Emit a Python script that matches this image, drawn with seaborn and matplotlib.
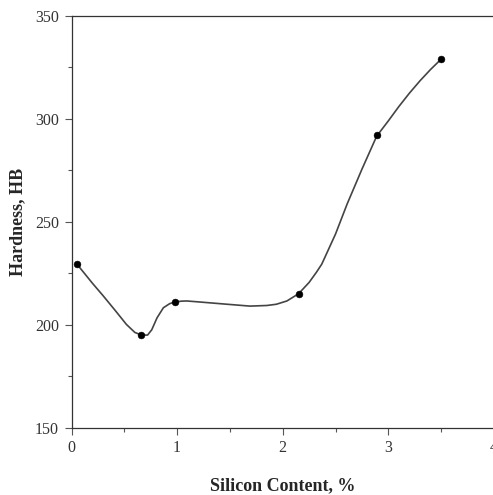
import numpy as np
import pandas as pd
import matplotlib
matplotlib.use("Agg")
import matplotlib.pyplot as plt
from matplotlib.ticker import MultipleLocator
import seaborn as sns

# measured points (markers)
si_content = [0.05, 0.66, 0.98, 2.15, 2.89, 3.50]
hardness = [229.5, 195.0, 211.0, 215.0, 292.0, 329.0]

# smoothed connecting curve
curve_x = [0.05, 0.20, 0.30, 0.42, 0.52, 0.60, 0.66, 0.72, 0.76, 0.81, 0.87, 0.93, 0.98,
           1.04, 1.09, 1.19, 1.45, 1.69, 1.85, 1.94, 2.04, 2.15, 2.25, 2.32, 2.37,
           2.50, 2.61, 2.75, 2.89, 3.00, 3.10, 3.20, 3.30, 3.40, 3.50]
curve_y = [229.5, 220.0, 214.0, 206.5, 200.1, 196.2, 195.0, 194.9, 197.5, 203.3, 208.2, 210.2, 211.0,
           211.4, 211.5, 211.1, 210.0, 209.0, 209.3, 209.9, 211.5, 215.0, 220.5, 225.5, 229.4,
           244.0, 258.6, 275.5, 291.6, 299.0, 306.0, 312.5, 318.5, 324.0, 329.0]

pts = pd.DataFrame({"x": si_content, "y": hardness})
crv = pd.DataFrame({"x": curve_x, "y": curve_y})

sns.set_style("ticks")
plt.rcParams['font.family'] = ['Liberation Serif', 'DejaVu Serif']

fig = plt.figure(figsize=(4.93, 4.95), dpi=100)
ax = fig.add_axes([71.5/493, 67.5/495, 422.4/493, 411.5/495])

sns.lineplot(data=crv, x="x", y="y", ax=ax, color="#444444", lw=1.2, sort=False)
sns.scatterplot(data=pts, x="x", y="y", ax=ax, color="black", s=24, edgecolor="black", zorder=3)

ax.set_xlim(0, 4)
ax.set_ylim(150, 350)
ax.xaxis.set_major_locator(MultipleLocator(1))
ax.xaxis.set_minor_locator(MultipleLocator(0.5))
ax.yaxis.set_major_locator(MultipleLocator(50))
ax.yaxis.set_minor_locator(MultipleLocator(25))
ax.tick_params(which="major", length=5, width=0.8, color="#555555", labelsize=11.5,
               labelcolor="#333333", pad=4)
ax.tick_params(which="minor", length=3, width=0.8, color="#555555")

for s in ["left", "bottom", "top"]:
    ax.spines[s].set_color("#333333")
    ax.spines[s].set_linewidth(0.9)
ax.spines["right"].set_visible(False)

ax.set_xlabel("Silicon Content, %", fontsize=13, fontweight="bold")
ax.set_ylabel("Hardness, HB", fontsize=13, fontweight="bold")
ax.xaxis.set_label_coords(0.5, -0.122)
ax.yaxis.set_label_coords(-0.108, 0.5)

fig.savefig("out.png", dpi=100)
